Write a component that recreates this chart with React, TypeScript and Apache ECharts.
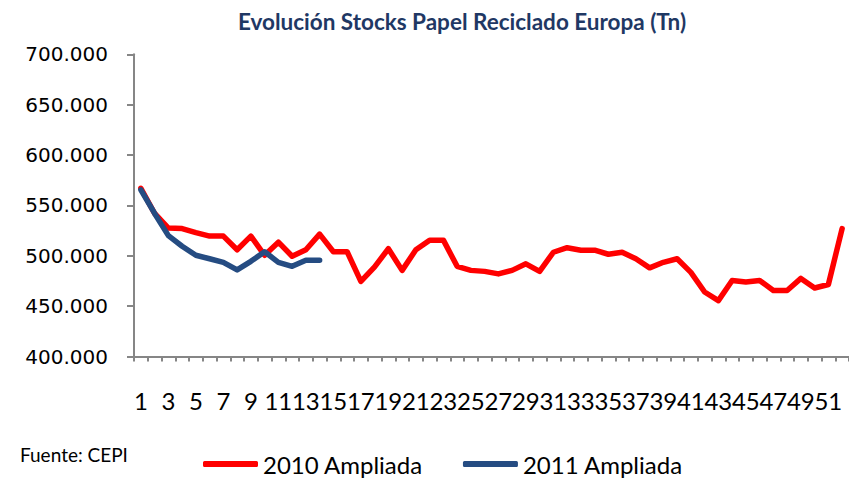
import React, { useEffect, useRef } from "react";
import * as echarts from "echarts";

const titleText = "Evolución Stocks Papel Reciclado Europa (Tn)";
const sourceText = "Fuente: CEPI";

const weeks = [
  "1", "2", "3", "4", "5", "6", "7", "8", "9", "10",
  "11", "12", "13", "14", "15", "16", "17", "18", "19", "20",
  "21", "22", "23", "24", "25", "26", "27", "28", "29", "30",
  "31", "32", "33", "34", "35", "36", "37", "38", "39", "40",
  "41", "42", "43", "44", "45", "46", "47", "48", "49", "50",
  "51", "52",
];

const series2010Name = "2010 Ampliada";
const series2010 = [
  567000, 542000, 527500, 527000, 523000, 519500, 519500, 506000, 519500, 500500,
  513500, 499500, 506000, 521500, 504000, 504000, 474500, 489000, 507000, 485500,
  506000, 515500, 515500, 489500, 485500, 484500, 482000, 485500, 492000, 484500,
  503500, 508000, 505500, 505500, 501500, 503500, 497000, 488000, 493500, 497000,
  483500, 464000, 455500, 475500, 474000, 475500, 465500, 465500, 477500, 468000,
  471500, 527000,
];

const series2011Name = "2011 Ampliada";
const series2011 = [
  565500, 542000, 520000, 509500, 500500, 497000, 493500, 486000, 494500, 504000,
  493500, 489500, 495500, 495500,
];

const yMin = 400000;
const yMax = 700000;
const yStep = 50000;

function fmt(v: number): string {
  return String(Math.round(v)).replace(/\B(?=(\d{3})+(?!\d))/g, ".");
}

export default function App() {
  const ref = useRef<HTMLDivElement>(null);
  useEffect(() => {
    document.body.style.margin = "0";
    if (!ref.current) return;
    const chart = echarts.init(ref.current, undefined, { renderer: "svg" });
    const axisGray = "#868686";
    chart.setOption({
      animation: false,
      backgroundColor: "#ffffff",
      title: {
        text: titleText,
        left: 457,
        textAlign: "center",
        top: 5,
        textStyle: {
          fontFamily: "Lato",
          fontWeight: "bold",
          fontSize: 22.5,
          color: "#1F3864",
        },
      },
      graphic: [
        {
          type: "text",
          left: 20,
          top: 445,
          style: {
            text: sourceText,
            fontFamily: "Lato",
            fontSize: 19,
            fill: "#000000",
          },
        },
      ],
      legend: {
        left: 198,
        top: 451,
        padding: [0, 5, 0, 5],
        itemWidth: 55,
        itemHeight: 6,
        itemGap: 40,
        icon: "roundRect",
        textStyle: { fontFamily: "Lato", fontSize: 24, lineHeight: 26, color: "#000000" },
        data: [series2010Name, series2011Name],
      },
      grid: { left: 134, right: 0, top: 54.3, bottom: 126.5, containLabel: false },
      xAxis: {
        type: "category",
        data: weeks,
        boundaryGap: true,
        axisLine: { show: true, lineStyle: { color: axisGray, width: 2 } },
        axisTick: { show: true, interval: 0, length: 5, lineStyle: { color: axisGray, width: 2 } },
        axisLabel: {
          interval: 0,
          hideOverlap: false,
          showMinLabel: true,
          showMaxLabel: true,
          margin: 32,
          fontFamily: "Lato",
          fontSize: 24,
          color: "#000000",
          formatter: (v: string, i: number) => (i % 2 === 0 ? v : ""),
        },
        splitLine: { show: false },
      },
      yAxis: {
        type: "value",
        min: yMin,
        max: yMax,
        interval: yStep,
        axisLine: { show: true, lineStyle: { color: axisGray, width: 2 } },
        axisTick: { show: true, length: 7, lineStyle: { color: axisGray, width: 2 } },
        axisLabel: {
          margin: 26,
          fontFamily: "DejaVu Sans",
          fontSize: 20,
          color: "#000000",
          formatter: (v: number) => fmt(v),
        },
        splitLine: { show: false },
      },
      series: [
        {
          name: series2010Name,
          type: "line",
          data: series2010,
          showSymbol: false,
          symbol: "none",
          itemStyle: { color: "#FF0000" },
          lineStyle: { color: "#FF0000", width: 5.5, cap: "round", join: "round" },
          z: 2,
        },
        {
          name: series2011Name,
          type: "line",
          data: series2011,
          showSymbol: false,
          symbol: "none",
          itemStyle: { color: "#254C82" },
          lineStyle: { color: "#254C82", width: 5.5, cap: "round", join: "round" },
          z: 3,
        },
      ],
    });
    return () => chart.dispose();
  }, []);
  return <div ref={ref} style={{ width: 849, height: 483 }} />;
}
